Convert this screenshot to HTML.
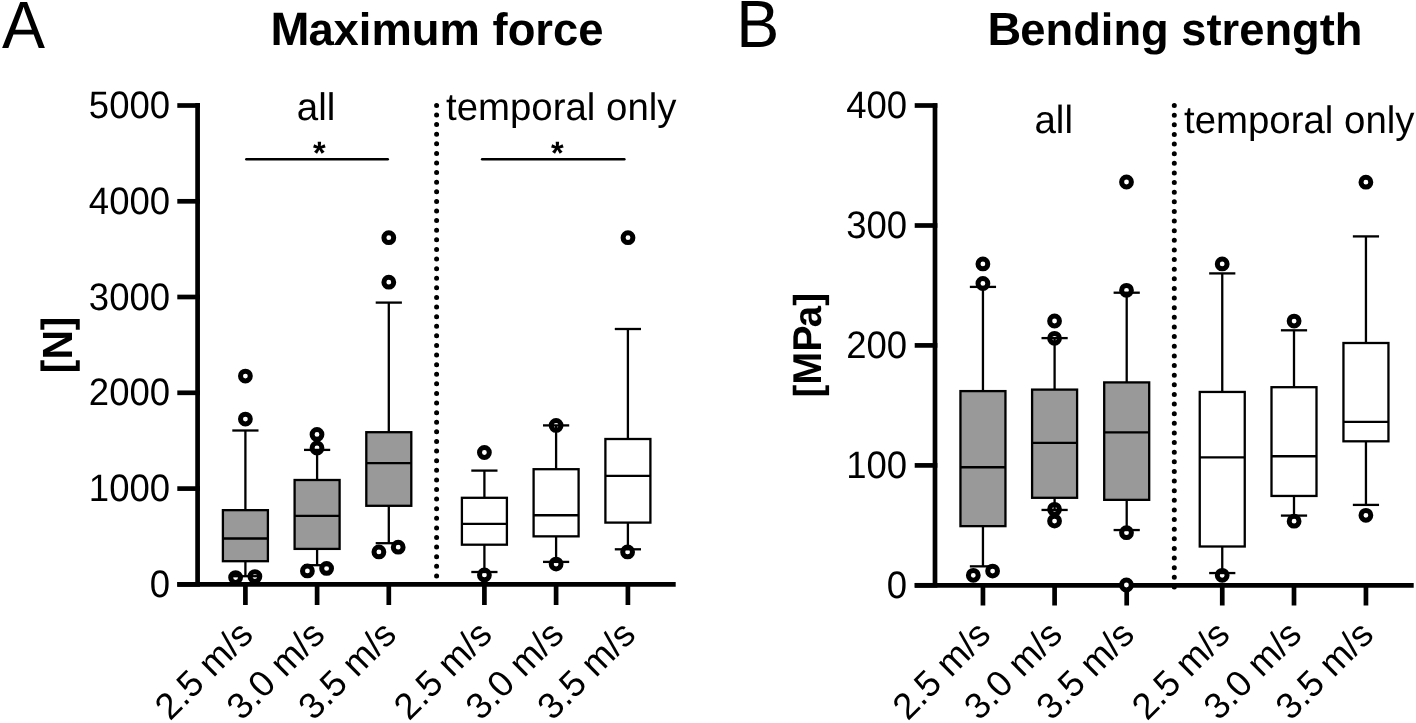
<!DOCTYPE html>
<html><head><meta charset="utf-8"><style>
html,body{margin:0;padding:0;background:#fff;overflow:hidden;}
svg{display:block;filter:grayscale(1);}
</style></head><body>
<svg width="1416" height="723" viewBox="0 0 1416 723" text-rendering="geometricPrecision" font-family='"Liberation Sans", sans-serif'>
<rect width="1416" height="723" fill="#fff"/>
<text transform="translate(1.97,48.00) scale(1.0,1.035)" font-size="64.5">A</text>
<text transform="translate(736.21,46.90) scale(1.0,1.035)" font-size="64.5">B</text>
<text transform="translate(270.47,44.80)" font-size="45.4" font-weight="bold"><tspan font-size="46.76">M</tspan><tspan dx="-1.04">aximum force</tspan></text>
<text transform="translate(987.48,44.60)" font-size="45.3" font-weight="bold"><tspan font-size="46.66">B</tspan><tspan dx="-0.89">ending strength</tspan></text>
<line x1="436.6" y1="105.4" x2="436.6" y2="585.5" stroke="#000" stroke-width="5" stroke-linecap="round" stroke-dasharray="0 9.602" />
<g stroke="#000" stroke-width="4.7" fill="none">
<line x1="197.6" y1="103.1" x2="197.6" y2="584.4" />
<line x1="177.3" y1="584.4" x2="675.7" y2="584.4" />
<line x1="177.3" y1="105.5" x2="199.95" y2="105.5" />
<line x1="177.3" y1="201.3" x2="199.95" y2="201.3" />
<line x1="177.3" y1="297.0" x2="199.95" y2="297.0" />
<line x1="177.3" y1="392.8" x2="199.95" y2="392.8" />
<line x1="177.3" y1="488.6" x2="199.95" y2="488.6" />
<line x1="177.3" y1="584.4" x2="199.95" y2="584.4" />
<line x1="245.4" y1="584.4" x2="245.4" y2="605" />
<line x1="317.1" y1="584.4" x2="317.1" y2="605" />
<line x1="388.8" y1="584.4" x2="388.8" y2="605" />
<line x1="484.4" y1="584.4" x2="484.4" y2="605" />
<line x1="556.1" y1="584.4" x2="556.1" y2="605" />
<line x1="627.9" y1="584.4" x2="627.9" y2="605" />
</g>
<g stroke="#000" stroke-width="5.0" fill="#fff">
<circle cx="245.4" cy="376.1" r="4.9" />
<circle cx="245.4" cy="419.1" r="4.9" />
<circle cx="235.6" cy="577.6" r="4.9" />
<circle cx="254.9" cy="576.6" r="4.9" />
<circle cx="317.0" cy="434.4" r="4.9" />
<circle cx="317.0" cy="448.0" r="4.9" />
<circle cx="307.4" cy="570.9" r="4.9" />
<circle cx="326.6" cy="568.4" r="4.9" />
<circle cx="388.8" cy="237.7" r="4.9" />
<circle cx="388.8" cy="282.2" r="4.9" />
<circle cx="378.9" cy="551.9" r="4.9" />
<circle cx="398.2" cy="547.2" r="4.9" />
<circle cx="484.4" cy="452.5" r="4.9" />
<circle cx="484.4" cy="574.9" r="4.9" />
<circle cx="556.1" cy="425.4" r="4.9" />
<circle cx="556.1" cy="564.1" r="4.9" />
<circle cx="628.0" cy="237.7" r="4.9" />
<circle cx="627.6" cy="551.9" r="4.9" />
</g>
<g stroke="#000" stroke-width="2.3" fill="none">
<line x1="245.4" y1="430.5" x2="245.4" y2="510.15" />
<line x1="245.4" y1="561.2" x2="245.4" y2="576.2" />
<line x1="232.3" y1="430.5" x2="258.5" y2="430.5" />
<line x1="232.3" y1="576.2" x2="258.5" y2="576.2" />
<rect x="222.9" y="510.15" width="45.0" height="51.05000000000007" fill="#999999" />
<line x1="222.9" y1="538.5" x2="267.9" y2="538.5" />
<line x1="317.1" y1="449.9" x2="317.1" y2="480.0" />
<line x1="317.1" y1="548.9" x2="317.1" y2="565.2" />
<line x1="304.0" y1="449.9" x2="330.20000000000005" y2="449.9" />
<line x1="304.0" y1="565.2" x2="330.20000000000005" y2="565.2" />
<rect x="294.6" y="480.0" width="45.0" height="68.89999999999998" fill="#999999" />
<line x1="294.6" y1="515.9" x2="339.6" y2="515.9" />
<line x1="388.8" y1="302.6" x2="388.8" y2="432.2" />
<line x1="388.8" y1="505.8" x2="388.8" y2="543.2" />
<line x1="375.7" y1="302.6" x2="401.90000000000003" y2="302.6" />
<line x1="375.7" y1="543.2" x2="401.90000000000003" y2="543.2" />
<rect x="366.3" y="432.2" width="45.0" height="73.60000000000002" fill="#999999" />
<line x1="366.3" y1="463.2" x2="411.3" y2="463.2" />
<line x1="484.4" y1="470.6" x2="484.4" y2="497.8" />
<line x1="484.4" y1="544.7" x2="484.4" y2="572.0" />
<line x1="471.29999999999995" y1="470.6" x2="497.5" y2="470.6" />
<line x1="471.29999999999995" y1="572.0" x2="497.5" y2="572.0" />
<rect x="461.9" y="497.8" width="45.0" height="46.900000000000034" fill="#fff" />
<line x1="461.9" y1="523.8" x2="506.9" y2="523.8" />
<line x1="556.1" y1="425.4" x2="556.1" y2="469.2" />
<line x1="556.1" y1="536.35" x2="556.1" y2="561.9" />
<line x1="543.0" y1="425.4" x2="569.2" y2="425.4" />
<line x1="543.0" y1="561.9" x2="569.2" y2="561.9" />
<rect x="533.6" y="469.2" width="45.0" height="67.15000000000003" fill="#fff" />
<line x1="533.6" y1="515.25" x2="578.6" y2="515.25" />
<line x1="627.9" y1="329.0" x2="627.9" y2="439.0" />
<line x1="627.9" y1="522.6" x2="627.9" y2="549.3" />
<line x1="614.8" y1="329.0" x2="641.0" y2="329.0" />
<line x1="614.8" y1="549.3" x2="641.0" y2="549.3" />
<rect x="605.4" y="439.0" width="45.0" height="83.60000000000002" fill="#fff" />
<line x1="605.4" y1="475.8" x2="650.4" y2="475.8" />
</g>
<text transform="translate(88.83,118.00) scale(1.0,1.05)" font-size="36.5">5000</text>
<text transform="translate(88.83,213.80) scale(1.0,1.05)" font-size="36.5">4000</text>
<text transform="translate(88.83,309.50) scale(1.0,1.05)" font-size="36.5">3000</text>
<text transform="translate(88.83,405.30) scale(1.0,1.05)" font-size="36.5">2000</text>
<text transform="translate(88.83,501.10) scale(1.0,1.05)" font-size="36.5">1000</text>
<text transform="translate(149.73,596.90) scale(1.0,1.05)" font-size="36.5">0</text>
<g font-size="36.6" text-anchor="end">
<text transform="translate(254.9,636.6) rotate(-45)">2.5 m/s</text>
<text transform="translate(326.6,636.6) rotate(-45)">3.0 m/s</text>
<text transform="translate(398.3,636.6) rotate(-45)">3.5 m/s</text>
<text transform="translate(493.9,636.6) rotate(-45)">2.5 m/s</text>
<text transform="translate(565.6,636.6) rotate(-45)">3.0 m/s</text>
<text transform="translate(637.4,636.6) rotate(-45)">3.5 m/s</text>
</g>
<line x1="1174.3" y1="105.6" x2="1174.3" y2="587.0" stroke="#000" stroke-width="5" stroke-linecap="round" stroke-dasharray="0 9.626" />
<g stroke="#000" stroke-width="4.7" fill="none">
<line x1="935.0" y1="103.2" x2="935.0" y2="585.3" />
<line x1="914.7" y1="585.3" x2="1413.7" y2="585.3" />
<line x1="914.7" y1="105.5" x2="937.35" y2="105.5" />
<line x1="914.7" y1="225.5" x2="937.35" y2="225.5" />
<line x1="914.7" y1="345.4" x2="937.35" y2="345.4" />
<line x1="914.7" y1="465.4" x2="937.35" y2="465.4" />
<line x1="914.7" y1="585.3" x2="937.35" y2="585.3" />
<line x1="982.95" y1="585.3" x2="982.95" y2="605.5" />
<line x1="1054.6" y1="585.3" x2="1054.6" y2="605.5" />
<line x1="1126.7" y1="585.3" x2="1126.7" y2="605.5" />
<line x1="1222.25" y1="585.3" x2="1222.25" y2="605.5" />
<line x1="1294.0" y1="585.3" x2="1294.0" y2="605.5" />
<line x1="1365.95" y1="585.3" x2="1365.95" y2="605.5" />
</g>
<g stroke="#000" stroke-width="5.0" fill="#fff">
<circle cx="982.9" cy="263.9" r="4.9" />
<circle cx="982.9" cy="283.5" r="4.9" />
<circle cx="973.3" cy="575.3" r="4.9" />
<circle cx="992.6" cy="571.1" r="4.9" />
<circle cx="1054.55" cy="321.0" r="4.9" />
<circle cx="1054.55" cy="338.3" r="4.9" />
<circle cx="1054.55" cy="509.3" r="4.9" />
<circle cx="1054.55" cy="521.1" r="4.9" />
<circle cx="1126.5" cy="182.0" r="4.9" />
<circle cx="1126.5" cy="290.3" r="4.9" />
<circle cx="1126.5" cy="532.7" r="4.9" />
<circle cx="1126.4" cy="585.0" r="4.9" />
<circle cx="1222.2" cy="263.9" r="4.9" />
<circle cx="1222.2" cy="575.3" r="4.9" />
<circle cx="1294.1" cy="321.1" r="4.9" />
<circle cx="1294.1" cy="521.2" r="4.9" />
<circle cx="1365.9" cy="182.2" r="4.9" />
<circle cx="1365.9" cy="515.3" r="4.9" />
</g>
<g stroke="#000" stroke-width="2.3" fill="none">
<line x1="982.95" y1="286.9" x2="982.95" y2="391.1" />
<line x1="982.95" y1="526.15" x2="982.95" y2="566.35" />
<line x1="969.85" y1="286.9" x2="996.0500000000001" y2="286.9" />
<line x1="969.85" y1="566.35" x2="996.0500000000001" y2="566.35" />
<rect x="960.45" y="391.1" width="45.0" height="135.04999999999995" fill="#999999" />
<line x1="960.45" y1="467.25" x2="1005.45" y2="467.25" />
<line x1="1054.6" y1="338.1" x2="1054.6" y2="389.6" />
<line x1="1054.6" y1="497.8" x2="1054.6" y2="509.95" />
<line x1="1041.5" y1="338.1" x2="1067.6999999999998" y2="338.1" />
<line x1="1041.5" y1="509.95" x2="1067.6999999999998" y2="509.95" />
<rect x="1032.1" y="389.6" width="45.0" height="108.19999999999999" fill="#999999" />
<line x1="1032.1" y1="442.9" x2="1077.1" y2="442.9" />
<line x1="1126.7" y1="292.7" x2="1126.7" y2="382.4" />
<line x1="1126.7" y1="499.85" x2="1126.7" y2="530.05" />
<line x1="1113.6000000000001" y1="292.7" x2="1139.8" y2="292.7" />
<line x1="1113.6000000000001" y1="530.05" x2="1139.8" y2="530.05" />
<rect x="1104.2" y="382.4" width="45.0" height="117.45000000000005" fill="#999999" />
<line x1="1104.2" y1="432.35" x2="1149.2" y2="432.35" />
<line x1="1222.25" y1="273.4" x2="1222.25" y2="391.95" />
<line x1="1222.25" y1="546.5" x2="1222.25" y2="573.05" />
<line x1="1209.15" y1="273.4" x2="1235.35" y2="273.4" />
<line x1="1209.15" y1="573.05" x2="1235.35" y2="573.05" />
<rect x="1199.75" y="391.95" width="45.0" height="154.55" fill="#fff" />
<line x1="1199.75" y1="457.45" x2="1244.75" y2="457.45" />
<line x1="1294.0" y1="330.3" x2="1294.0" y2="387.2" />
<line x1="1294.0" y1="495.95" x2="1294.0" y2="515.6" />
<line x1="1280.9" y1="330.3" x2="1307.1" y2="330.3" />
<line x1="1280.9" y1="515.6" x2="1307.1" y2="515.6" />
<rect x="1271.5" y="387.2" width="45.0" height="108.75" fill="#fff" />
<line x1="1271.5" y1="456.25" x2="1316.5" y2="456.25" />
<line x1="1365.95" y1="236.4" x2="1365.95" y2="343.0" />
<line x1="1365.95" y1="441.3" x2="1365.95" y2="504.9" />
<line x1="1352.8500000000001" y1="236.4" x2="1379.05" y2="236.4" />
<line x1="1352.8500000000001" y1="504.9" x2="1379.05" y2="504.9" />
<rect x="1343.45" y="343.0" width="45.0" height="98.30000000000001" fill="#fff" />
<line x1="1343.45" y1="421.85" x2="1388.45" y2="421.85" />
</g>
<text transform="translate(846.13,118.00) scale(1.0,1.05)" font-size="36.5">400</text>
<text transform="translate(846.13,238.00) scale(1.0,1.05)" font-size="36.5">300</text>
<text transform="translate(846.13,357.90) scale(1.0,1.05)" font-size="36.5">200</text>
<text transform="translate(846.13,477.90) scale(1.0,1.05)" font-size="36.5">100</text>
<text transform="translate(886.73,597.80) scale(1.0,1.05)" font-size="36.5">0</text>
<g font-size="36.6" text-anchor="end">
<text transform="translate(992.45,636.6) rotate(-45)">2.5 m/s</text>
<text transform="translate(1064.1,636.6) rotate(-45)">3.0 m/s</text>
<text transform="translate(1136.2,636.6) rotate(-45)">3.5 m/s</text>
<text transform="translate(1231.75,636.6) rotate(-45)">2.5 m/s</text>
<text transform="translate(1303.5,636.6) rotate(-45)">3.0 m/s</text>
<text transform="translate(1375.45,636.6) rotate(-45)">3.5 m/s</text>
</g>
<text transform="translate(296.76,120.40)" font-size="38.5">all</text>
<text transform="translate(446.02,120.00)" font-size="38.4">temporal only</text>
<text transform="translate(1034.46,133.10) scale(1.0,1.02)" font-size="38.5">all</text>
<text transform="translate(1184.02,133.00)" font-size="38.4">temporal only</text>
<g stroke="#000" stroke-width="2.4" stroke-linecap="round"><line x1="246.3" y1="159.2" x2="387.8" y2="159.2"/><line x1="482.1" y1="159.3" x2="624.4" y2="159.3"/></g>
<text transform="translate(313.04,164.20)" font-size="32.5" font-weight="bold">*</text>
<text transform="translate(550.94,164.40)" font-size="32.5" font-weight="bold">*</text>
<text transform="translate(71.04,373.22) rotate(-90) scale(0.967,1.0)" font-size="42.2" font-weight="bold">[<tspan dy="1">N</tspan><tspan dy="-1">]</tspan></text>
<text transform="translate(820.51,397.59) rotate(-90) scale(0.985,1.0)" font-size="39.0" font-weight="bold">[<tspan font-size="40.2">MP</tspan><tspan dx="-1.8">a]</tspan></text>
</svg>
</body></html>
